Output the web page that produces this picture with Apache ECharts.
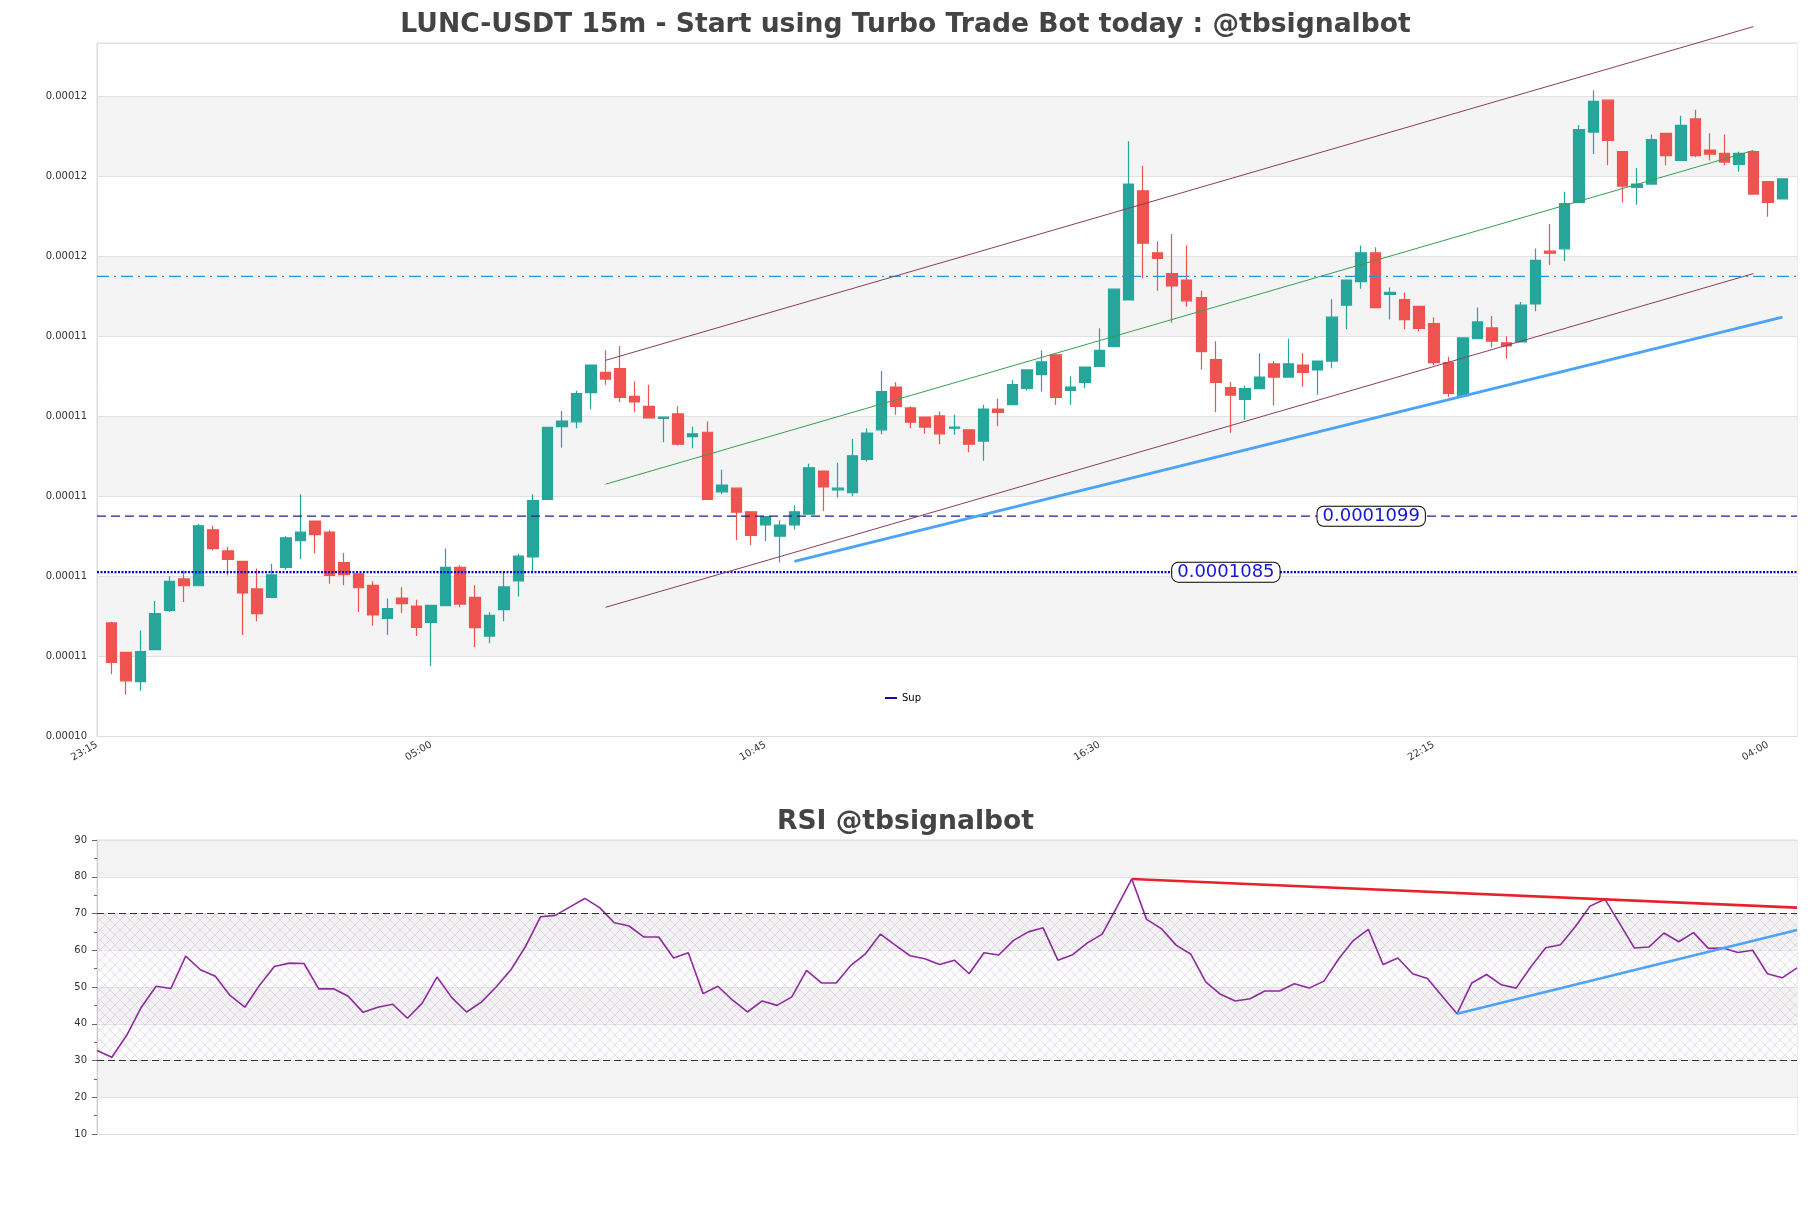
<!DOCTYPE html>
<html>
<head>
<meta charset="utf-8">
<title>LUNC-USDT 15m</title>
<script src="https://cdn.jsdelivr.net/npm/echarts@6/dist/echarts.min.js"></script>
<style>
  html, body { margin: 0; padding: 0; background: #fff; }
  #chart { width: 1811px; height: 1208px; }
</style>
</head>
<body>
<div id="chart"></div>
<script>
// x categories: one empty slot before and after the candles
const times = [
  '23:15', '23:30', '23:45',
  '00:00', '00:15', '00:30', '00:45', '01:00', '01:15', '01:30', '01:45',
  '02:00', '02:15', '02:30', '02:45', '03:00', '03:15', '03:30', '03:45',
  '04:00', '04:15', '04:30', '04:45', '05:00', '05:15', '05:30', '05:45',
  '06:00', '06:15', '06:30', '06:45', '07:00', '07:15', '07:30', '07:45',
  '08:00', '08:15', '08:30', '08:45', '09:00', '09:15', '09:30', '09:45',
  '10:00', '10:15', '10:30', '10:45', '11:00', '11:15', '11:30', '11:45',
  '12:00', '12:15', '12:30', '12:45', '13:00', '13:15', '13:30', '13:45',
  '14:00', '14:15', '14:30', '14:45', '15:00', '15:15', '15:30', '15:45',
  '16:00', '16:15', '16:30', '16:45', '17:00', '17:15', '17:30', '17:45',
  '18:00', '18:15', '18:30', '18:45', '19:00', '19:15', '19:30', '19:45',
  '20:00', '20:15', '20:30', '20:45', '21:00', '21:15', '21:30', '21:45',
  '22:00', '22:15', '22:30', '22:45', '23:00', '23:15', '23:30', '23:45',
  '00:00', '00:15', '00:30', '00:45', '01:00', '01:15', '01:30', '01:45',
  '02:00', '02:15', '02:30', '02:45', '03:00', '03:15', '03:30', '03:45',
  '04:00', '04:15', '04:30'
];

const opens = [
  0.00010723, 0.00010649, 0.00010576, 0.00010656, 0.00010754, 0.00010833, 0.00010816, 0.00010956, 0.00010903, 0.00010877,
  0.00010808, 0.00010787, 0.00010862, 0.00010929, 0.00010978, 0.00010950, 0.00010874, 0.00010846, 0.00010817, 0.00010734,
  0.00010785, 0.00010765, 0.00010724, 0.00010766, 0.00010862, 0.00010787, 0.00010690, 0.00010756, 0.00010828, 0.00010888,
  0.00011032, 0.00011214, 0.00011226, 0.00011299, 0.00011350, 0.00011359, 0.00011290, 0.00011265, 0.00011235, 0.00011246,
  0.00011189, 0.00011200, 0.00011051, 0.00011060, 0.00011001, 0.00010968, 0.00010940, 0.00010968, 0.00010995, 0.00011103,
  0.00011056, 0.00011049, 0.00011132, 0.00011206, 0.00011313, 0.00011261, 0.00011238, 0.00011241, 0.00011210, 0.00011206,
  0.00011178, 0.00011258, 0.00011269, 0.00011310, 0.00011344, 0.00011394, 0.00011305, 0.00011325, 0.00011365, 0.00011414,
  0.00011531, 0.00011804, 0.00011649, 0.00011597, 0.00011581, 0.00011537, 0.00011382, 0.00011312, 0.00011282, 0.00011309,
  0.00011371, 0.00011338, 0.00011368, 0.00011356, 0.00011378, 0.00011518, 0.00011577, 0.00011649, 0.00011545, 0.00011532,
  0.00011515, 0.00011472, 0.00011374, 0.00011291, 0.00011434, 0.00011461, 0.00011424, 0.00011426, 0.00011521, 0.00011653,
  0.00011659, 0.00011775, 0.00011951, 0.00012031, 0.00011902, 0.00011813, 0.00011821, 0.00011948, 0.00011880, 0.00011984,
  0.00011906, 0.00011898, 0.00011870, 0.00011902, 0.00011827, 0.00011784
];
const closes = [
  0.00010624, 0.00010578, 0.00010651, 0.00010746, 0.00010827, 0.00010816, 0.00010966, 0.00010909, 0.00010882, 0.00010798,
  0.00010746, 0.00010843, 0.00010936, 0.00010950, 0.00010944, 0.00010842, 0.00010844, 0.00010811, 0.00010743, 0.00010759,
  0.00010771, 0.00010712, 0.00010767, 0.00010862, 0.00010770, 0.00010711, 0.00010742, 0.00010813, 0.00010890, 0.00011029,
  0.00011212, 0.00011228, 0.00011297, 0.00011368, 0.00011333, 0.00011287, 0.00011276, 0.00011236, 0.00011238, 0.00011170,
  0.00011196, 0.00011032, 0.00011068, 0.00011000, 0.00010942, 0.00010989, 0.00010968, 0.00011001, 0.00011111, 0.00011063,
  0.00011060, 0.00011141, 0.00011198, 0.00011302, 0.00011265, 0.00011225, 0.00011213, 0.00011196, 0.00011213, 0.00011170,
  0.00011258, 0.00011250, 0.00011319, 0.00011356, 0.00011376, 0.00011287, 0.00011313, 0.00011363, 0.00011405, 0.00011558,
  0.00011821, 0.00011673, 0.00011635, 0.00011566, 0.00011529, 0.00011402, 0.00011325, 0.00011293, 0.00011309, 0.00011338,
  0.00011338, 0.00011371, 0.00011350, 0.00011378, 0.00011488, 0.00011581, 0.00011649, 0.00011512, 0.00011550, 0.00011482,
  0.00011460, 0.00011374, 0.00011297, 0.00011436, 0.00011476, 0.00011428, 0.00011416, 0.00011518, 0.00011630, 0.00011648,
  0.00011772, 0.00011957, 0.00012028, 0.00011930, 0.00011816, 0.00011821, 0.00011932, 0.00011892, 0.00011968, 0.00011892,
  0.00011896, 0.00011876, 0.00011898, 0.00011796, 0.00011775, 0.00011834
];
const lows = [
  0.00010595, 0.00010543, 0.00010553, 0.00010656, 0.00010750, 0.00010775, 0.00010816, 0.00010905, 0.00010842, 0.00010693,
  0.00010727, 0.00010787, 0.00010856, 0.00010882, 0.00010897, 0.00010821, 0.00010817, 0.00010750, 0.00010716, 0.00010693,
  0.00010748, 0.00010690, 0.00010615, 0.00010766, 0.00010762, 0.00010662, 0.00010672, 0.00010727, 0.00010789, 0.00010848,
  0.00011032, 0.00011161, 0.00011210, 0.00011258, 0.00011319, 0.00011276, 0.00011250, 0.00011236, 0.00011175, 0.00011167,
  0.00011160, 0.00011032, 0.00011045, 0.00010930, 0.00010917, 0.00010928, 0.00010874, 0.00010957, 0.00010995, 0.00011003,
  0.00011037, 0.00011040, 0.00011127, 0.00011195, 0.00011244, 0.00011210, 0.00011196, 0.00011170, 0.00011194, 0.00011150,
  0.00011129, 0.00011215, 0.00011269, 0.00011305, 0.00011302, 0.00011269, 0.00011269, 0.00011310, 0.00011363, 0.00011414,
  0.00011531, 0.00011585, 0.00011554, 0.00011474, 0.00011514, 0.00011357, 0.00011250, 0.00011199, 0.00011231, 0.00011309,
  0.00011267, 0.00011338, 0.00011314, 0.00011294, 0.00011360, 0.00011458, 0.00011559, 0.00011512, 0.00011482, 0.00011458,
  0.00011452, 0.00011368, 0.00011288, 0.00011291, 0.00011434, 0.00011412, 0.00011384, 0.00011426, 0.00011503, 0.00011619,
  0.00011628, 0.00011775, 0.00011896, 0.00011868, 0.00011775, 0.00011769, 0.00011821, 0.00011868, 0.00011880, 0.00011888,
  0.00011880, 0.00011868, 0.00011852, 0.00011796, 0.00011739, 0.00011784
];
const highs = [
  0.00010726, 0.00010649, 0.00010704, 0.00010778, 0.00010840, 0.00010854, 0.00010971, 0.00010966, 0.00010913, 0.00010877,
  0.00010859, 0.00010871, 0.00010940, 0.00011045, 0.00010978, 0.00010955, 0.00010898, 0.00010846, 0.00010827, 0.00010784,
  0.00010812, 0.00010781, 0.00010767, 0.00010909, 0.00010867, 0.00010817, 0.00010750, 0.00010848, 0.00010896, 0.00011045,
  0.00011212, 0.00011253, 0.00011304, 0.00011368, 0.00011405, 0.00011416, 0.00011327, 0.00011319, 0.00011238, 0.00011265,
  0.00011214, 0.00011227, 0.00011106, 0.00011060, 0.00011001, 0.00010989, 0.00010980, 0.00011017, 0.00011121, 0.00011103,
  0.00011124, 0.00011183, 0.00011210, 0.00011353, 0.00011325, 0.00011265, 0.00011238, 0.00011252, 0.00011244, 0.00011206,
  0.00011269, 0.00011284, 0.00011330, 0.00011356, 0.00011405, 0.00011394, 0.00011340, 0.00011363, 0.00011460, 0.00011558,
  0.00011928, 0.00011867, 0.00011678, 0.00011696, 0.00011667, 0.00011554, 0.00011428, 0.00011326, 0.00011317, 0.00011398,
  0.00011378, 0.00011434, 0.00011398, 0.00011378, 0.00011533, 0.00011581, 0.00011667, 0.00011663, 0.00011562, 0.00011550,
  0.00011515, 0.00011488, 0.00011389, 0.00011436, 0.00011512, 0.00011491, 0.00011440, 0.00011526, 0.00011660, 0.00011721,
  0.00011802, 0.00011969, 0.00012055, 0.00012031, 0.00011902, 0.00011861, 0.00011945, 0.00011948, 0.00011992, 0.00012007,
  0.00011948, 0.00011945, 0.00011902, 0.00011902, 0.00011827, 0.00011834
];

const rsi = [
  32.7, 30.9, 36.8, 44.5, 50.2, 49.6, 58.4, 54.7, 52.9, 47.7,
  44.5, 50.5, 55.6, 56.5, 56.4, 49.5, 49.5, 47.5, 43.1, 44.5,
  45.3, 41.5, 45.6, 52.7, 47.1, 43.2, 45.9, 50.0, 54.7, 61.1,
  69.1, 69.5, 71.8, 74.1, 71.6, 67.5, 66.6, 63.6, 63.6, 57.9,
  59.3, 48.2, 50.2, 46.4, 43.2, 46.2, 45.0, 47.3, 54.5, 51.1,
  51.1, 55.9, 59.1, 64.4, 61.4, 58.5, 57.7, 56.1, 57.3, 53.6,
  59.3, 58.7, 62.7, 65.0, 66.1, 57.3, 58.8, 62.0, 64.4, 71.8,
  79.4, 68.4, 65.9, 61.4, 58.9, 51.4, 48.0, 46.2, 46.8, 48.9,
  48.9, 50.9, 49.7, 51.6, 57.7, 62.7, 65.7, 56.1, 57.9, 53.6,
  52.3, 47.5, 42.7, 51.1, 53.4, 50.6, 49.7, 55.5, 60.7, 61.5,
  66.4, 72.0, 73.9, 67.3, 60.6, 60.9, 64.7, 62.3, 64.8, 60.5,
  60.6, 59.4, 60.0, 53.6, 52.5, 55.2
];

// horizontal levels
const supLevel = 0.0001085;
const resLevel = 0.0001099;
const topLevel = 0.0001159;
// candle index where each level's tag starts
const supTagAt = 73;
const resTagAt = 83;

// channel drawn from candle 34 to candle 113
const channelIdx = [34, 113];
const channelUpper = [0.0001138, 0.00012215];
const channelMid = [0.0001107, 0.00011905];
const channelLower = [0.00010762, 0.00011597];
// rising support trend line
const trendIdx = [47, 115];
const trendVals = [0.00010877, 0.00011488];

// rsi trend lines
const rsiResIdx = [70, 115];
const rsiResVals = [79.4, 71.6];
const rsiSupIdx = [92, 115];
const rsiSupVals = [42.7, 65.5];

const FONT = 'DejaVu Sans';
const candleTimes = times.slice(1, times.length - 1);
const lastSlot = times.length - 1;

const candleData = ['-'].concat(
  opens.map((o, i) => [o, closes[i], lows[i], highs[i]]),
  ['-']
);

// x position on the price axis is candle index + 1 (empty first slot)
function seg(idx, vals) {
  return [[idx[0] + 1, vals[0]], [idx[1] + 1, vals[1]]];
}
// level across the whole price panel
function level(v) {
  return [[0, v], [lastSlot, v]];
}

function lineSeries(name, data, color, width, xi, yi, type) {
  return {
    name: name, type: 'line', data: data,
    xAxisIndex: xi, yAxisIndex: yi,
    showSymbol: false, symbol: 'none', clip: false, silent: true,
    lineStyle: { color: color, width: width, type: type || 'solid' },
    z: 5
  };
}

function tag(idx, lv) {
  return {
    coord: [idx + 1, lv],
    symbol: 'circle', symbolSize: 0,
    label: {
      show: true, position: 'right', distance: 0,
      formatter: String(lv),
      fontFamily: FONT, fontSize: 18, color: '#1616d8',
      backgroundColor: '#fff', borderColor: '#000', borderWidth: 1,
      borderRadius: 6, padding: [0, 5, 0, 5], lineHeight: 19
    }
  };
}

// cross-hatch for the rsi 30-70 band
const hatch = document.createElement('canvas');
hatch.width = 10; hatch.height = 10;
const hc = hatch.getContext('2d');
hc.strokeStyle = 'rgba(190,160,205,0.45)';
hc.lineWidth = 0.8;
hc.beginPath();
hc.moveTo(0, 0); hc.lineTo(10, 10);
hc.moveTo(10, 0); hc.lineTo(0, 10);
hc.stroke();

const chart = echarts.init(document.getElementById('chart'), null, { renderer: 'canvas' });

const resSeries = lineSeries('res', level(resLevel), '#1f1f99', 1.3, 0, 0, [9, 5]);
const supSeries = lineSeries('Sup', level(supLevel), '#0000dd', 2.4, 0, 0, [2, 1.5]);
supSeries.itemStyle = { color: '#1a0aa0' };

const option = {
  animation: false,
  backgroundColor: '#fff',
  title: [{
    text: 'LUNC-USDT 15m - Start using Turbo Trade Bot today : @tbsignalbot',
    left: 'center', top: 7,
    textStyle: { fontFamily: FONT, fontSize: 26.6, fontWeight: 'bold', color: '#444' }
  }, {
    text: 'RSI @tbsignalbot',
    left: 'center', top: 804,
    textStyle: { fontFamily: FONT, fontSize: 26.6, fontWeight: 'bold', color: '#444' }
  }],
  legend: {
    data: ['Sup'], left: 880, top: 688,
    icon: 'rect', itemWidth: 12, itemHeight: 2, itemGap: 8,
    textStyle: { fontFamily: FONT, fontSize: 10, color: '#000' }
  },
  grid: [
    { left: 97, right: 14, top: 43, height: 693, show: true, borderColor: '#ddd', borderWidth: 1 },
    { left: 97, right: 14, top: 840, height: 294, show: true, borderColor: '#ddd', borderWidth: 1 }
  ],
  xAxis: [{
    type: 'category', gridIndex: 0, data: times, boundaryGap: false,
    axisLine: { lineStyle: { color: '#ddd' } },
    axisTick: { show: false },
    axisLabel: { interval: 22, rotate: 30, margin: 8, fontFamily: FONT, fontSize: 10, color: '#333' },
    splitLine: { show: false }
  }, {
    type: 'category', gridIndex: 1, data: candleTimes, boundaryGap: false,
    axisLine: { lineStyle: { color: '#ddd' } },
    axisTick: { show: false },
    axisLabel: { show: false },
    splitLine: { show: false }
  }],
  yAxis: [{
    type: 'value', gridIndex: 0, scale: true,
    min: 0.0001044, max: 0.00012174, interval: 0.000002,
    axisLine: { show: true, lineStyle: { color: '#ddd' } },
    axisTick: { show: false },
    axisLabel: {
      margin: 10, fontFamily: FONT, fontSize: 10, color: '#333', showMaxLabel: false,
      formatter: v => v.toFixed(5)
    },
    splitLine: { lineStyle: { color: '#e2e2e2' } },
    splitArea: { show: true, areaStyle: { color: ['#ffffff', '#f4f4f4'] } }
  }, {
    type: 'value', gridIndex: 1, min: 10, max: 90, interval: 10,
    axisLine: { show: true, lineStyle: { color: '#ccc' } },
    axisTick: { show: true, length: 5, lineStyle: { color: '#666' } },
    minorTick: { show: true, splitNumber: 2, length: 3, lineStyle: { color: '#666' } },
    axisLabel: { margin: 10, fontFamily: FONT, fontSize: 10, color: '#333' },
    splitLine: { lineStyle: { color: '#e2e2e2' } },
    splitArea: { show: true, areaStyle: { color: ['#ffffff', '#f3f3f3'] } }
  }],
  series: [
    {
      name: 'LUNC', type: 'candlestick', data: candleData,
      xAxisIndex: 0, yAxisIndex: 0, barWidth: 11,
      itemStyle: {
        color: '#26a69a', color0: '#ef5350',
        borderColor: '#26a69a', borderColor0: '#ef5350', borderWidth: 1.2
      }
    },
    lineSeries('top', level(topLevel), '#1e9ad8', 1.2, 0, 0, [12, 5, 2, 5]),
    resSeries,
    supSeries,
    lineSeries('upper', seg(channelIdx, channelUpper), '#8c3d58', 1, 0, 0),
    lineSeries('mid', seg(channelIdx, channelMid), '#3a9e4f', 1, 0, 0),
    lineSeries('lower', seg(channelIdx, channelLower), '#8c3d58', 1, 0, 0),
    lineSeries('trend', seg(trendIdx, trendVals), '#4da3f7', 3, 0, 0),
    {
      // level tags drawn on top of the level lines
      name: 'tags', type: 'scatter', data: [],
      xAxisIndex: 0, yAxisIndex: 0, z: 20, silent: true,
      markPoint: { z: 20, silent: true, data: [tag(resTagAt, resLevel), tag(supTagAt, supLevel)] }
    },
    {
      name: 'RSI', type: 'line', data: rsi,
      xAxisIndex: 1, yAxisIndex: 1, showSymbol: false, symbol: 'none',
      lineStyle: { color: '#8e2a9e', width: 1.6 }, z: 4,
      markLine: {
        silent: true, symbol: ['none', 'none'], label: { show: false },
        lineStyle: { color: '#333', type: [7, 4], width: 1.2 },
        data: [{ yAxis: 70 }, { yAxis: 30 }]
      },
      markArea: {
        silent: true,
        itemStyle: { color: { image: hatch, repeat: 'repeat' } },
        data: [[{ yAxis: 30 }, { yAxis: 70 }]]
      }
    },
    lineSeries('rsiRes', [[rsiResIdx[0], rsiResVals[0]], [rsiResIdx[1], rsiResVals[1]]], '#e8222a', 2.6, 1, 1),
    lineSeries('rsiSup', [[rsiSupIdx[0], rsiSupVals[0]], [rsiSupIdx[1], rsiSupVals[1]]], '#4da3f7', 2.6, 1, 1)
  ]
};

chart.setOption(option);
</script>
</body>
</html>
